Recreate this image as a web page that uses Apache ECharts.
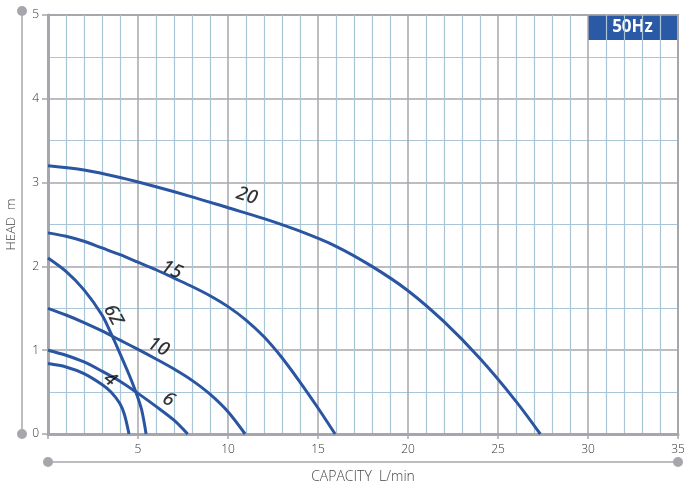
<!DOCTYPE html>
<html>
<head>
<meta charset="utf-8">
<script src="https://cdn.jsdelivr.net/npm/echarts@6/dist/echarts.min.js"></script>
<style>
html,body{margin:0;padding:0;background:#fff;}
#chart{width:684px;height:489px;}
</style>
</head>
<body>
<div id="chart"></div>
<script>
// ---- data (capacity L/min, head m) ----
var curve20 = [[0,3.2],[2,3.15],[4,3.06],[6,2.95],[8,2.83],[10,2.7],[12,2.57],[14,2.42],[16,2.24],[18,2.0],[20,1.71],[22,1.34],[24,0.9],[26,0.39],[27.35,0]];
var curve15 = [[0,2.4],[1,2.36],[2,2.3],[3,2.22],[4,2.14],[5,2.05],[6,1.96],[7,1.86],[8,1.76],[9,1.65],[10,1.52],[11,1.36],[12,1.16],[13,0.91],[14,0.62],[15,0.31],[15.95,0]];
var curve10 = [[0,1.5],[1,1.42],[2,1.33],[3,1.23],[4,1.12],[5,1.01],[6,0.895],[7,0.775],[8,0.64],[9,0.475],[10,0.265],[10.95,0]];
var curve6  = [[0,1.0],[1,0.94],[2,0.86],[3,0.75],[4,0.63],[5,0.485],[6,0.33],[7,0.165],[7.76,0]];
var curve4  = [[0,0.84],[1,0.8],[2,0.72],[3,0.59],[3.5,0.5],[4,0.36],[4.25,0.23],[4.5,0]];
var curve6Z = [[0,2.1],[1,1.94],[2,1.72],[3,1.42],[3.5,1.2],[4,0.96],[4.5,0.71],[4.9,0.49],[5.2,0.29],[5.45,0]];
var curveNames = ['20','15','10','6','4','6Z'];
var curves = [curve20, curve15, curve10, curve6, curve4, curve6Z];
// curve label annotations
var labelText = ['20','15','10','6','4','6Z'];
var labelQ    = [11.04, 6.87, 6.13, 6.69, 3.44, 3.62];
var labelH    = [2.84, 1.96, 1.04, 0.41, 0.65, 1.42];
var xTicks = [5,10,15,20,25,30,35];
var yTicks = [0,1,2,3,4,5];
var badge = '50Hz';

var labelRot = [-17,-24,-27,-30,-38,-62];
var blue = '#2a55a0';
var gray = '#a8a6ad';
var lightBlue = '#a9c6d8';

var chart = echarts.init(document.getElementById('chart'), null, {renderer:'canvas'});

var series = curves.map(function(c, i){
  return {
    name: curveNames[i], type:'line', data:c, smooth:0.3, symbol:'none',
    lineStyle:{color:blue, width:3}, silent:true, z:3, xAxisIndex:0, yAxisIndex:0
  };
});
series.push({
  type:'scatter', symbolSize:0, xAxisIndex:0, yAxisIndex:0, z:5, silent:true,
  data: labelText.map(function(t,i){
    return {name:t, value:[labelQ[i], labelH[i]], label:{rotate:labelRot[i]}};
  }),
  label:{show:true, position:'inside', formatter:function(p){return p.name;},
    color:'#000', fontSize:19, fontStyle:'italic', fontWeight:500, fontFamily:'"Noto Sans", sans-serif'}
});

var axisText = {color:'#333', fontSize:12, fontFamily:'"Open Sans", sans-serif', fontWeight:300};

chart.setOption({
  animation:false,
  grid:{left:48, top:15, right:6, bottom:55, outerBoundsMode:'none', containLabel:false, show:true, borderColor:gray, borderWidth:2, backgroundColor:'#fff'},
  xAxis:[{
    type:'value', min:0, max:35, interval:5,
    axisLine:{show:true, onZero:false, lineStyle:{color:gray, width:3}},
    axisTick:{show:true, inside:false, length:5, lineStyle:{color:gray, width:1.5}},
    axisLabel:Object.assign({margin:10, formatter:function(v){return xTicks.indexOf(v)>=0 ? String(v) : '';}}, axisText),
    splitLine:{show:true, lineStyle:{color:gray, width:1.5}},
    minorTick:{show:false, splitNumber:5},
    minorSplitLine:{show:true, lineStyle:{color:lightBlue, width:1.2}},
    name:'CAPACITY  L/min', nameLocation:'middle', nameGap:36,
    nameTextStyle:{color:'#444', fontSize:14, fontFamily:'"Open Sans", sans-serif', fontWeight:300}
  },{
    type:'value', min:0, max:35, position:'bottom', offset:28,
    axisLine:{show:true, onZero:false, symbol:['circle','circle'], symbolSize:[10,10], lineStyle:{color:gray, width:1.5}},
    axisTick:{show:false}, axisLabel:{show:false}, splitLine:{show:false}
  }],
  yAxis:[{
    type:'value', min:0, max:5, interval:1,
    axisLine:{show:true, onZero:false, lineStyle:{color:gray, width:3}},
    axisTick:{show:true, inside:false, length:6, lineStyle:{color:gray, width:1.5}},
    axisLabel:Object.assign({margin:9, formatter:function(v){return yTicks.indexOf(v)>=0 ? String(v) : '';}}, axisText),
    splitLine:{show:true, lineStyle:{color:gray, width:1.5}},
    minorTick:{show:false, splitNumber:2},
    minorSplitLine:{show:true, lineStyle:{color:lightBlue, width:1.2}},
    name:'HEAD  m', nameLocation:'middle', nameGap:30, nameRotate:90,
    nameTextStyle:{color:'#444', fontSize:13, fontFamily:'"Open Sans", sans-serif', fontWeight:300}
  },{
    type:'value', min:0, max:5, position:'left', offset:26,
    axisLine:{show:true, onZero:false, symbol:['circle','circle'], symbolSize:[10,10], symbolOffset:[0,4], lineStyle:{color:gray, width:1.5}},
    axisTick:{show:false}, axisLabel:{show:false}, splitLine:{show:false}
  }],
  graphic:[{
    type:'group', right:7, top:15, z:10,
    children:[
      {type:'rect', shape:{x:0, y:0, width:89, height:25}, style:{fill:'#2a5aa6'}},
      {type:'text', x:44.5, y:12.5, style:{text:badge, fill:'#fff', fontSize:17, fontWeight:'bold', fontFamily:'"Open Sans", sans-serif', align:'center', verticalAlign:'middle'}}
    ]
  }],
  series:series
});
</script>
</body>
</html>
